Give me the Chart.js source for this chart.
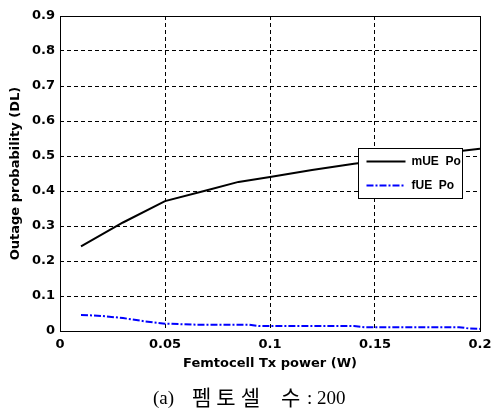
<!DOCTYPE html>
<html>
<head>
<meta charset="utf-8">
<script src="https://cdn.jsdelivr.net/npm/chart.js@4/dist/chart.umd.min.js"></script>
<style>
  html, body { margin: 0; padding: 0; background: #ffffff; }
  #wrap { width: 492px; height: 413px; }
</style>
</head>
<body>
<div id="wrap"><canvas id="outageChart" width="492" height="413"></canvas></div>
<script>
// Valeurs
const xTicks = [0, 0.05, 0.1, 0.15, 0.2];
const yTicks = [0, 0.1, 0.2, 0.3, 0.4, 0.5, 0.6, 0.7, 0.8, 0.9];

const mUEx = [0.01, 0.03, 0.05, 0.07, 0.085, 0.1, 0.12, 0.14, 0.17, 0.2];
const mUEy = [0.242, 0.31, 0.371, 0.402, 0.426, 0.44, 0.46, 0.478, 0.50, 0.521];

const fUEx = [0.01, 0.02, 0.03, 0.04, 0.05, 0.065, 0.09, 0.095, 0.14, 0.145, 0.19, 0.195, 0.2];
const fUEy = [0.046, 0.043, 0.037, 0.028, 0.021, 0.018, 0.018, 0.014, 0.014, 0.011, 0.011, 0.007, 0.006];

const seriesLabels = ['mUE Po', 'fUE Po'];
// légende de la figure, découpée en morceaux (le texte original est espacé)
const captionParts = ['(a)', '펨토셀', '수', ':', '200'];

const axisFont = 'DejaVu Sans, Verdana, sans-serif';
const legendFont = 'Liberation Sans, Arial, sans-serif';
const captionFont = 'Liberation Serif, "Noto Sans CJK KR", serif';

// cadre plein autour de la zone de tracé + légende interne + légende de figure
const framePlugin = {
    id: 'frame',
    afterDraw(chart) {
        const { ctx, chartArea: a } = chart;
        ctx.save();
        ctx.strokeStyle = '#000000';
        ctx.lineWidth = 1;
        ctx.setLineDash([]);
        ctx.strokeRect(a.left + 0.5, a.top + 0.5, a.right - a.left, a.bottom - a.top);

        // légende
        const bx = 358.5, by = 148.5, bw = 104, bh = 50;
        ctx.fillStyle = '#ffffff';
        ctx.fillRect(bx, by, bw, bh);
        ctx.strokeRect(bx, by, bw, bh);
        ctx.font = 'bold 12px ' + legendFont;
        ctx.textBaseline = 'middle';
        chart.data.datasets.forEach((ds, i) => {
            const yy = by + 13 + i * 24;
            ctx.strokeStyle = ds.borderColor;
            ctx.lineWidth = ds.borderWidth;
            ctx.setLineDash(ds.borderDash || []);
            ctx.beginPath();
            ctx.moveTo(bx + 8, yy);
            ctx.lineTo(bx + 47, yy);
            ctx.stroke();
            ctx.fillStyle = '#000000';
            ctx.fillText(ds.label.replace(' ', '  '), bx + 53, yy);
        });

        // (a) 펨토셀 수 : 200
        const capX = [153, 192, 281, 307, 317];
        const capSize = [19, 21, 21, 19, 19];
        const capSpacing = ['0px', '5px', '0px', '0px', '0px'];
        ctx.fillStyle = '#000000';
        ctx.textBaseline = 'middle';
        ctx.textAlign = 'left';
        captionParts.forEach((t, i) => {
            ctx.font = capSize[i] + 'px ' + captionFont;
            ctx.letterSpacing = capSpacing[i];
            ctx.fillText(t, capX[i], 399);
        });
        ctx.letterSpacing = '0px';
        ctx.restore();
    }
};

new Chart(document.getElementById('outageChart').getContext('2d'), {
    type: 'scatter',
    data: {
        datasets: [
            {
                label: seriesLabels[0],
                data: mUEx.map((x, i) => ({ x: x, y: mUEy[i] })),
                showLine: true,
                borderColor: '#000000',
                borderWidth: 2,
                pointRadius: 0,
                tension: 0
            },
            {
                label: seriesLabels[1],
                data: fUEx.map((x, i) => ({ x: x, y: fUEy[i] })),
                showLine: true,
                borderColor: '#0000ff',
                borderWidth: 2,
                borderDash: [7, 2, 2, 2],
                pointRadius: 0,
                tension: 0
            }
        ]
    },
    options: {
        responsive: false,
        animation: false,
        layout: { padding: { left: 0, right: 12, top: 16, bottom: 42 } },
        scales: {
            x: {
                type: 'linear',
                min: 0,
                max: 0.2,
                afterBuildTicks: (scale) => { scale.ticks = xTicks.map(v => ({ value: v })); },
                afterFit: (scale) => {
                    scale.height = 40;
                    scale.paddingLeft = 0;
                    scale.paddingRight = 0;
                },
                grid: { color: '#000000', lineWidth: 1, tickLength: 0, drawTicks: false },
                border: { display: false, dash: [4, 3] },
                ticks: {
                    color: '#000000',
                    padding: 6,
                    maxRotation: 0,
                    font: { family: axisFont, weight: 'bold', size: 13 },
                    callback: (v) => String(v)
                },
                title: {
                    display: true,
                    text: 'Femtocell Tx power (W)',
                    color: '#000000',
                    padding: { top: 0, bottom: 0 },
                    font: { family: axisFont, weight: 'bold', size: 13 }
                }
            },
            y: {
                type: 'linear',
                min: 0,
                max: 0.9,
                afterBuildTicks: (scale) => { scale.ticks = yTicks.map(v => ({ value: v })); },
                afterFit: (scale) => { scale.width = 60; },
                grid: { color: '#000000', lineWidth: 1, tickLength: 0, drawTicks: false },
                border: { display: false, dash: [4, 3] },
                ticks: {
                    color: '#000000',
                    padding: 5,
                    font: { family: axisFont, weight: 'bold', size: 13 },
                    callback: (v) => String(v)
                },
                title: {
                    display: true,
                    text: 'Outage probability (DL)',
                    color: '#000000',
                    padding: { top: 8, bottom: 0 },
                    font: { family: axisFont, weight: 'bold', size: 13 }
                }
            }
        },
        plugins: {
            legend: { display: false },
            tooltip: { enabled: false },
            title: { display: false }
        }
    },
    plugins: [framePlugin]
});
</script>
</body>
</html>
